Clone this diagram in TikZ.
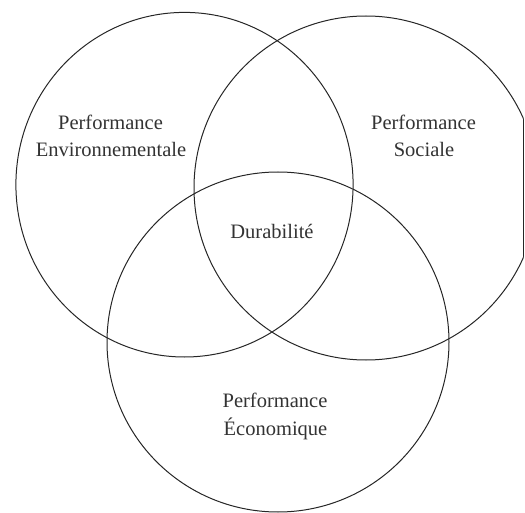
\documentclass[tikz,border=0pt]{standalone}
\usepackage{fontspec}
\setmainfont{Liberation Serif}
\begin{document}
\begin{tikzpicture}[x=1pt,y=-1pt,
  ring/.style={draw=black!85,line width=1pt},
  label/.style={inner sep=0pt,anchor=base,text=black!80,
    font=\fontsize{20.5}{24}\selectfont}]
\useasboundingbox (0,0) rectangle (525,513);
% centres of the three sets
\coordinate (L) at (184.5,184.7);
\coordinate (R) at (366,188);
\coordinate (B) at (278,342);
% environmental and economic sets
\draw[ring] (L) ellipse [x radius=168.6pt,y radius=172.3pt];
\draw[ring] (B) ellipse [x radius=171pt,y radius=170pt];
% social set, cut off by the right frame edge
\begin{scope}
  \clip (0,0) rectangle (523.5,513);
  \draw[ring] (R) circle [radius=172pt];
\end{scope}
\begin{scope}
  \clip (R) circle [radius=172pt];
  \draw[ring] (523.5,0) -- (523.5,513);
\end{scope}
% labels
\node[label] (envP) at (110.5,130) {Performance};
\node[label] (envE) at (111,157) {Environnementale};
\node[label] (socP) at (423.5,130) {Performance};
\node[label] (socS) at (424,157) {Sociale};
\node[label] (dur)  at (272,238.5) {Durabilité};
\node[label] (ecoP) at (275,407) {Performance};
\node[label] (ecoE) at (275.5,435) {Économique};
\end{tikzpicture}
\end{document}
